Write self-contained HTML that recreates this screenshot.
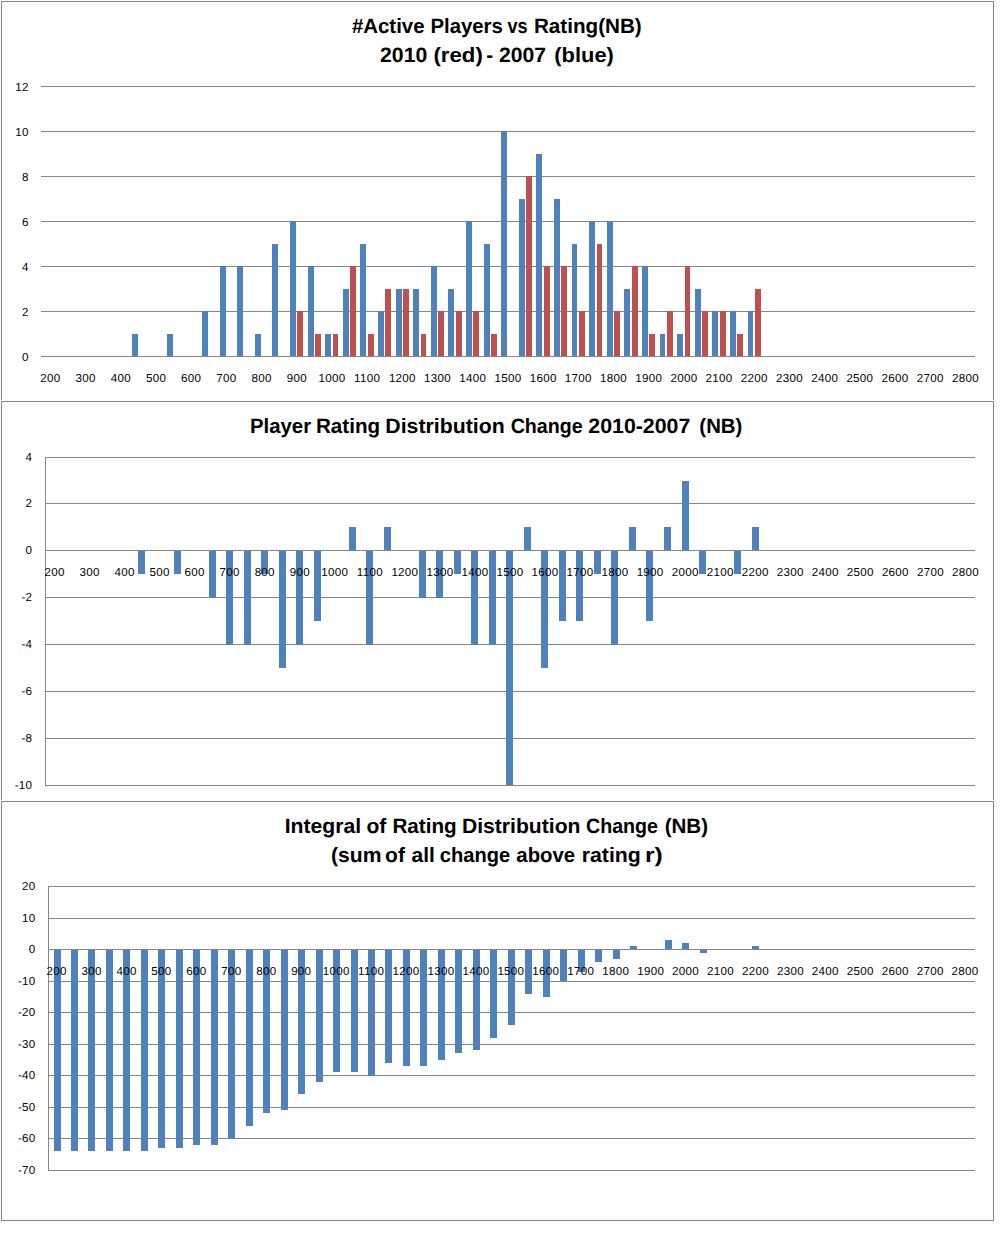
<!DOCTYPE html>
<html>
<head>
<meta charset="utf-8">
<title>Rating distribution charts</title>
<style>
html, body { margin: 0; padding: 0; background: #ffffff; }
body { width: 1003px; height: 1235px; overflow: hidden; font-family: "Liberation Sans", sans-serif; }
svg { display: block; }
.t { font-family: "Liberation Sans", sans-serif; font-size: 11.6px; letter-spacing: 0.3px; fill: #000000; }
.h { font-family: "Liberation Sans", sans-serif; font-size: 20.7px; font-weight: bold; fill: #000000; }
</style>
</head>
<body>
<svg width="1003" height="1235" viewBox="0 0 1003 1235" shape-rendering="crispEdges" text-rendering="geometricPrecision">
<rect x="0" y="0" width="1003" height="1235" fill="#ffffff"/>
<rect x="1" y="1" width="993" height="1" fill="#868686"/>
<rect x="1" y="1" width="1" height="399" fill="#868686"/>
<rect x="993" y="1" width="1" height="399" fill="#868686"/>
<rect x="1" y="401" width="993" height="1" fill="#868686"/>
<rect x="1" y="401" width="1" height="399" fill="#868686"/>
<rect x="993" y="401" width="1" height="399" fill="#868686"/>
<rect x="1" y="801" width="993" height="1" fill="#868686"/>
<rect x="1" y="801" width="1" height="420" fill="#868686"/>
<rect x="993" y="801" width="1" height="420" fill="#868686"/>
<rect x="1" y="1220" width="993" height="1" fill="#868686"/>
<rect x="41" y="356" width="934" height="1" fill="#868686"/>
<rect x="41" y="311" width="934" height="1" fill="#868686"/>
<rect x="41" y="266" width="934" height="1" fill="#868686"/>
<rect x="41" y="221" width="934" height="1" fill="#868686"/>
<rect x="41" y="176" width="934" height="1" fill="#868686"/>
<rect x="41" y="131" width="934" height="1" fill="#868686"/>
<rect x="41" y="86" width="934" height="1" fill="#868686"/>
<rect x="132" y="334" width="6" height="23" fill="#4f81bd"/>
<rect x="167" y="334" width="6" height="23" fill="#4f81bd"/>
<rect x="202" y="311" width="6" height="46" fill="#4f81bd"/>
<rect x="220" y="266" width="6" height="91" fill="#4f81bd"/>
<rect x="237" y="266" width="6" height="91" fill="#4f81bd"/>
<rect x="255" y="334" width="6" height="23" fill="#4f81bd"/>
<rect x="272" y="244" width="6" height="113" fill="#4f81bd"/>
<rect x="290" y="221" width="6" height="136" fill="#4f81bd"/>
<rect x="297" y="311" width="6" height="46" fill="#c0504d"/>
<rect x="308" y="266" width="6" height="91" fill="#4f81bd"/>
<rect x="315" y="334" width="6" height="23" fill="#c0504d"/>
<rect x="325" y="334" width="6" height="23" fill="#4f81bd"/>
<rect x="333" y="334" width="5" height="23" fill="#c0504d"/>
<rect x="343" y="289" width="6" height="68" fill="#4f81bd"/>
<rect x="350" y="266" width="6" height="91" fill="#c0504d"/>
<rect x="360" y="244" width="6" height="113" fill="#4f81bd"/>
<rect x="368" y="334" width="6" height="23" fill="#c0504d"/>
<rect x="378" y="311" width="6" height="46" fill="#4f81bd"/>
<rect x="385" y="289" width="6" height="68" fill="#c0504d"/>
<rect x="396" y="289" width="6" height="68" fill="#4f81bd"/>
<rect x="403" y="289" width="6" height="68" fill="#c0504d"/>
<rect x="413" y="289" width="6" height="68" fill="#4f81bd"/>
<rect x="421" y="334" width="5" height="23" fill="#c0504d"/>
<rect x="431" y="266" width="6" height="91" fill="#4f81bd"/>
<rect x="438" y="311" width="6" height="46" fill="#c0504d"/>
<rect x="448" y="289" width="6" height="68" fill="#4f81bd"/>
<rect x="456" y="311" width="6" height="46" fill="#c0504d"/>
<rect x="466" y="221" width="6" height="136" fill="#4f81bd"/>
<rect x="473" y="311" width="6" height="46" fill="#c0504d"/>
<rect x="484" y="244" width="6" height="113" fill="#4f81bd"/>
<rect x="491" y="334" width="6" height="23" fill="#c0504d"/>
<rect x="501" y="131" width="6" height="226" fill="#4f81bd"/>
<rect x="519" y="199" width="6" height="158" fill="#4f81bd"/>
<rect x="526" y="176" width="6" height="181" fill="#c0504d"/>
<rect x="536" y="154" width="6" height="203" fill="#4f81bd"/>
<rect x="544" y="266" width="6" height="91" fill="#c0504d"/>
<rect x="554" y="199" width="6" height="158" fill="#4f81bd"/>
<rect x="561" y="266" width="6" height="91" fill="#c0504d"/>
<rect x="572" y="244" width="5" height="113" fill="#4f81bd"/>
<rect x="579" y="311" width="6" height="46" fill="#c0504d"/>
<rect x="589" y="221" width="6" height="136" fill="#4f81bd"/>
<rect x="597" y="244" width="5" height="113" fill="#c0504d"/>
<rect x="607" y="221" width="6" height="136" fill="#4f81bd"/>
<rect x="614" y="311" width="6" height="46" fill="#c0504d"/>
<rect x="624" y="289" width="6" height="68" fill="#4f81bd"/>
<rect x="632" y="266" width="6" height="91" fill="#c0504d"/>
<rect x="642" y="266" width="6" height="91" fill="#4f81bd"/>
<rect x="649" y="334" width="6" height="23" fill="#c0504d"/>
<rect x="660" y="334" width="5" height="23" fill="#4f81bd"/>
<rect x="667" y="311" width="6" height="46" fill="#c0504d"/>
<rect x="677" y="334" width="6" height="23" fill="#4f81bd"/>
<rect x="685" y="266" width="5" height="91" fill="#c0504d"/>
<rect x="695" y="289" width="6" height="68" fill="#4f81bd"/>
<rect x="702" y="311" width="6" height="46" fill="#c0504d"/>
<rect x="712" y="311" width="6" height="46" fill="#4f81bd"/>
<rect x="720" y="311" width="6" height="46" fill="#c0504d"/>
<rect x="730" y="311" width="6" height="46" fill="#4f81bd"/>
<rect x="737" y="334" width="6" height="23" fill="#c0504d"/>
<rect x="748" y="311" width="5" height="46" fill="#4f81bd"/>
<rect x="755" y="289" width="6" height="68" fill="#c0504d"/>
<rect x="41" y="356" width="934" height="1" fill="#868686"/>
<text x="28.8" y="360.5" text-anchor="end" class="t">0</text>
<text x="28.8" y="315.5" text-anchor="end" class="t">2</text>
<text x="28.8" y="270.5" text-anchor="end" class="t">4</text>
<text x="28.8" y="225.5" text-anchor="end" class="t">6</text>
<text x="28.8" y="180.5" text-anchor="end" class="t">8</text>
<text x="28.8" y="135.5" text-anchor="end" class="t">10</text>
<text x="28.8" y="90.5" text-anchor="end" class="t">12</text>
<text x="50.46" y="382.1" text-anchor="middle" class="t">200</text>
<text x="85.65" y="382.1" text-anchor="middle" class="t">300</text>
<text x="120.84" y="382.1" text-anchor="middle" class="t">400</text>
<text x="156.04" y="382.1" text-anchor="middle" class="t">500</text>
<text x="191.23" y="382.1" text-anchor="middle" class="t">600</text>
<text x="226.42" y="382.1" text-anchor="middle" class="t">700</text>
<text x="261.61" y="382.1" text-anchor="middle" class="t">800</text>
<text x="296.8" y="382.1" text-anchor="middle" class="t">900</text>
<text x="332" y="382.1" text-anchor="middle" class="t">1000</text>
<text x="367.19" y="382.1" text-anchor="middle" class="t">1100</text>
<text x="402.38" y="382.1" text-anchor="middle" class="t">1200</text>
<text x="437.57" y="382.1" text-anchor="middle" class="t">1300</text>
<text x="472.76" y="382.1" text-anchor="middle" class="t">1400</text>
<text x="507.96" y="382.1" text-anchor="middle" class="t">1500</text>
<text x="543.15" y="382.1" text-anchor="middle" class="t">1600</text>
<text x="578.34" y="382.1" text-anchor="middle" class="t">1700</text>
<text x="613.53" y="382.1" text-anchor="middle" class="t">1800</text>
<text x="648.72" y="382.1" text-anchor="middle" class="t">1900</text>
<text x="683.92" y="382.1" text-anchor="middle" class="t">2000</text>
<text x="719.11" y="382.1" text-anchor="middle" class="t">2100</text>
<text x="754.3" y="382.1" text-anchor="middle" class="t">2200</text>
<text x="789.49" y="382.1" text-anchor="middle" class="t">2300</text>
<text x="824.68" y="382.1" text-anchor="middle" class="t">2400</text>
<text x="859.88" y="382.1" text-anchor="middle" class="t">2500</text>
<text x="895.07" y="382.1" text-anchor="middle" class="t">2600</text>
<text x="930.26" y="382.1" text-anchor="middle" class="t">2700</text>
<text x="965.45" y="382.1" text-anchor="middle" class="t">2800</text>
<rect x="45" y="457" width="930" height="1" fill="#868686"/>
<rect x="45" y="503" width="930" height="1" fill="#868686"/>
<rect x="45" y="550" width="930" height="1" fill="#868686"/>
<rect x="45" y="597" width="930" height="1" fill="#868686"/>
<rect x="45" y="644" width="930" height="1" fill="#868686"/>
<rect x="45" y="691" width="930" height="1" fill="#868686"/>
<rect x="45" y="738" width="930" height="1" fill="#868686"/>
<rect x="45" y="785" width="930" height="1" fill="#868686"/>
<rect x="45" y="457" width="1" height="329" fill="#868686"/>
<rect x="138" y="550" width="7" height="24" fill="#4f81bd"/>
<rect x="174" y="550" width="7" height="24" fill="#4f81bd"/>
<rect x="209" y="550" width="7" height="48" fill="#4f81bd"/>
<rect x="226" y="550" width="7" height="95" fill="#4f81bd"/>
<rect x="244" y="550" width="7" height="95" fill="#4f81bd"/>
<rect x="261" y="550" width="7" height="24" fill="#4f81bd"/>
<rect x="279" y="550" width="7" height="118" fill="#4f81bd"/>
<rect x="296" y="550" width="7" height="95" fill="#4f81bd"/>
<rect x="314" y="550" width="7" height="71" fill="#4f81bd"/>
<rect x="349" y="527" width="7" height="24" fill="#4f81bd"/>
<rect x="366" y="550" width="7" height="95" fill="#4f81bd"/>
<rect x="384" y="527" width="7" height="24" fill="#4f81bd"/>
<rect x="419" y="550" width="7" height="48" fill="#4f81bd"/>
<rect x="436" y="550" width="7" height="48" fill="#4f81bd"/>
<rect x="454" y="550" width="7" height="24" fill="#4f81bd"/>
<rect x="471" y="550" width="7" height="95" fill="#4f81bd"/>
<rect x="489" y="550" width="7" height="95" fill="#4f81bd"/>
<rect x="506" y="550" width="7" height="235" fill="#4f81bd"/>
<rect x="524" y="527" width="7" height="24" fill="#4f81bd"/>
<rect x="541" y="550" width="7" height="118" fill="#4f81bd"/>
<rect x="559" y="550" width="7" height="71" fill="#4f81bd"/>
<rect x="576" y="550" width="7" height="71" fill="#4f81bd"/>
<rect x="594" y="550" width="7" height="24" fill="#4f81bd"/>
<rect x="611" y="550" width="7" height="95" fill="#4f81bd"/>
<rect x="629" y="527" width="7" height="24" fill="#4f81bd"/>
<rect x="646" y="550" width="7" height="71" fill="#4f81bd"/>
<rect x="664" y="527" width="7" height="24" fill="#4f81bd"/>
<rect x="682" y="481" width="7" height="70" fill="#4f81bd"/>
<rect x="699" y="550" width="7" height="24" fill="#4f81bd"/>
<rect x="734" y="550" width="7" height="24" fill="#4f81bd"/>
<rect x="752" y="527" width="7" height="24" fill="#4f81bd"/>
<rect x="45" y="550" width="930" height="1" fill="#868686"/>
<text x="32.3" y="461.1" text-anchor="end" class="t">4</text>
<text x="32.3" y="507.1" text-anchor="end" class="t">2</text>
<text x="32.3" y="554.1" text-anchor="end" class="t">0</text>
<text x="32.3" y="601.1" text-anchor="end" class="t">-2</text>
<text x="32.3" y="648.1" text-anchor="end" class="t">-4</text>
<text x="32.3" y="695.1" text-anchor="end" class="t">-6</text>
<text x="32.3" y="742.1" text-anchor="end" class="t">-8</text>
<text x="32.3" y="789.1" text-anchor="end" class="t">-10</text>
<text x="54.53" y="576.1" text-anchor="middle" class="t">200</text>
<text x="89.57" y="576.1" text-anchor="middle" class="t">300</text>
<text x="124.6" y="576.1" text-anchor="middle" class="t">400</text>
<text x="159.64" y="576.1" text-anchor="middle" class="t">500</text>
<text x="194.67" y="576.1" text-anchor="middle" class="t">600</text>
<text x="229.71" y="576.1" text-anchor="middle" class="t">700</text>
<text x="264.75" y="576.1" text-anchor="middle" class="t">800</text>
<text x="299.78" y="576.1" text-anchor="middle" class="t">900</text>
<text x="334.82" y="576.1" text-anchor="middle" class="t">1000</text>
<text x="369.85" y="576.1" text-anchor="middle" class="t">1100</text>
<text x="404.89" y="576.1" text-anchor="middle" class="t">1200</text>
<text x="439.93" y="576.1" text-anchor="middle" class="t">1300</text>
<text x="474.96" y="576.1" text-anchor="middle" class="t">1400</text>
<text x="510" y="576.1" text-anchor="middle" class="t">1500</text>
<text x="545.03" y="576.1" text-anchor="middle" class="t">1600</text>
<text x="580.07" y="576.1" text-anchor="middle" class="t">1700</text>
<text x="615.11" y="576.1" text-anchor="middle" class="t">1800</text>
<text x="650.14" y="576.1" text-anchor="middle" class="t">1900</text>
<text x="685.18" y="576.1" text-anchor="middle" class="t">2000</text>
<text x="720.21" y="576.1" text-anchor="middle" class="t">2100</text>
<text x="755.25" y="576.1" text-anchor="middle" class="t">2200</text>
<text x="790.29" y="576.1" text-anchor="middle" class="t">2300</text>
<text x="825.32" y="576.1" text-anchor="middle" class="t">2400</text>
<text x="860.36" y="576.1" text-anchor="middle" class="t">2500</text>
<text x="895.39" y="576.1" text-anchor="middle" class="t">2600</text>
<text x="930.43" y="576.1" text-anchor="middle" class="t">2700</text>
<text x="965.47" y="576.1" text-anchor="middle" class="t">2800</text>
<rect x="48" y="886.1" width="927" height="1" fill="#868686"/>
<rect x="48" y="917.59" width="927" height="1" fill="#868686"/>
<rect x="48" y="949.08" width="927" height="1" fill="#868686"/>
<rect x="48" y="980.57" width="927" height="1" fill="#868686"/>
<rect x="48" y="1012.06" width="927" height="1" fill="#868686"/>
<rect x="48" y="1043.54" width="927" height="1" fill="#868686"/>
<rect x="48" y="1075.03" width="927" height="1" fill="#868686"/>
<rect x="48" y="1106.52" width="927" height="1" fill="#868686"/>
<rect x="48" y="1138.01" width="927" height="1" fill="#868686"/>
<rect x="48" y="1169.5" width="927" height="1" fill="#868686"/>
<rect x="48" y="886" width="1" height="285" fill="#868686"/>
<rect x="54" y="949" width="7" height="202" fill="#4f81bd"/>
<rect x="71" y="949" width="7" height="202" fill="#4f81bd"/>
<rect x="88" y="949" width="7" height="202" fill="#4f81bd"/>
<rect x="106" y="949" width="7" height="202" fill="#4f81bd"/>
<rect x="123" y="949" width="7" height="202" fill="#4f81bd"/>
<rect x="141" y="949" width="7" height="202" fill="#4f81bd"/>
<rect x="158" y="949" width="7" height="199" fill="#4f81bd"/>
<rect x="176" y="949" width="7" height="199" fill="#4f81bd"/>
<rect x="193" y="949" width="7" height="196" fill="#4f81bd"/>
<rect x="211" y="949" width="7" height="196" fill="#4f81bd"/>
<rect x="228" y="949" width="7" height="190" fill="#4f81bd"/>
<rect x="246" y="949" width="7" height="177" fill="#4f81bd"/>
<rect x="263" y="949" width="7" height="164" fill="#4f81bd"/>
<rect x="281" y="949" width="7" height="161" fill="#4f81bd"/>
<rect x="298" y="949" width="7" height="145" fill="#4f81bd"/>
<rect x="316" y="949" width="7" height="133" fill="#4f81bd"/>
<rect x="333" y="949" width="7" height="123" fill="#4f81bd"/>
<rect x="351" y="949" width="7" height="123" fill="#4f81bd"/>
<rect x="368" y="949" width="7" height="127" fill="#4f81bd"/>
<rect x="385" y="949" width="7" height="114" fill="#4f81bd"/>
<rect x="403" y="949" width="7" height="117" fill="#4f81bd"/>
<rect x="420" y="949" width="7" height="117" fill="#4f81bd"/>
<rect x="438" y="949" width="7" height="111" fill="#4f81bd"/>
<rect x="455" y="949" width="7" height="104" fill="#4f81bd"/>
<rect x="473" y="949" width="7" height="101" fill="#4f81bd"/>
<rect x="490" y="949" width="7" height="89" fill="#4f81bd"/>
<rect x="508" y="949" width="7" height="76" fill="#4f81bd"/>
<rect x="525" y="949" width="7" height="45" fill="#4f81bd"/>
<rect x="543" y="949" width="7" height="48" fill="#4f81bd"/>
<rect x="560" y="949" width="7" height="32" fill="#4f81bd"/>
<rect x="578" y="949" width="7" height="23" fill="#4f81bd"/>
<rect x="595" y="949" width="7" height="13" fill="#4f81bd"/>
<rect x="613" y="949" width="7" height="10" fill="#4f81bd"/>
<rect x="630" y="946" width="7" height="4" fill="#4f81bd"/>
<rect x="665" y="940" width="7" height="10" fill="#4f81bd"/>
<rect x="682" y="943" width="7" height="7" fill="#4f81bd"/>
<rect x="700" y="949" width="7" height="4" fill="#4f81bd"/>
<rect x="752" y="946" width="7" height="4" fill="#4f81bd"/>
<rect x="48" y="949.08" width="927" height="1" fill="#868686"/>
<text x="35.6" y="890.2" text-anchor="end" class="t">20</text>
<text x="35.6" y="921.69" text-anchor="end" class="t">10</text>
<text x="35.6" y="953.18" text-anchor="end" class="t">0</text>
<text x="35.6" y="984.67" text-anchor="end" class="t">-10</text>
<text x="35.6" y="1016.16" text-anchor="end" class="t">-20</text>
<text x="35.6" y="1047.64" text-anchor="end" class="t">-30</text>
<text x="35.6" y="1079.13" text-anchor="end" class="t">-40</text>
<text x="35.6" y="1110.62" text-anchor="end" class="t">-50</text>
<text x="35.6" y="1142.11" text-anchor="end" class="t">-60</text>
<text x="35.6" y="1173.6" text-anchor="end" class="t">-70</text>
<text x="56.67" y="974.7" text-anchor="middle" class="t">200</text>
<text x="91.61" y="974.7" text-anchor="middle" class="t">300</text>
<text x="126.55" y="974.7" text-anchor="middle" class="t">400</text>
<text x="161.49" y="974.7" text-anchor="middle" class="t">500</text>
<text x="196.43" y="974.7" text-anchor="middle" class="t">600</text>
<text x="231.37" y="974.7" text-anchor="middle" class="t">700</text>
<text x="266.31" y="974.7" text-anchor="middle" class="t">800</text>
<text x="301.25" y="974.7" text-anchor="middle" class="t">900</text>
<text x="336.19" y="974.7" text-anchor="middle" class="t">1000</text>
<text x="371.13" y="974.7" text-anchor="middle" class="t">1100</text>
<text x="406.07" y="974.7" text-anchor="middle" class="t">1200</text>
<text x="441.01" y="974.7" text-anchor="middle" class="t">1300</text>
<text x="475.95" y="974.7" text-anchor="middle" class="t">1400</text>
<text x="510.89" y="974.7" text-anchor="middle" class="t">1500</text>
<text x="545.83" y="974.7" text-anchor="middle" class="t">1600</text>
<text x="580.77" y="974.7" text-anchor="middle" class="t">1700</text>
<text x="615.71" y="974.7" text-anchor="middle" class="t">1800</text>
<text x="650.65" y="974.7" text-anchor="middle" class="t">1900</text>
<text x="685.59" y="974.7" text-anchor="middle" class="t">2000</text>
<text x="720.53" y="974.7" text-anchor="middle" class="t">2100</text>
<text x="755.47" y="974.7" text-anchor="middle" class="t">2200</text>
<text x="790.41" y="974.7" text-anchor="middle" class="t">2300</text>
<text x="825.35" y="974.7" text-anchor="middle" class="t">2400</text>
<text x="860.29" y="974.7" text-anchor="middle" class="t">2500</text>
<text x="895.23" y="974.7" text-anchor="middle" class="t">2600</text>
<text x="930.17" y="974.7" text-anchor="middle" class="t">2700</text>
<text x="965.11" y="974.7" text-anchor="middle" class="t">2800</text>
<text transform="matrix(0.9858 0 0 1 351.94 33.3)" class="h">#Active</text>
<text transform="matrix(0.9843 0 0 1 430.41 33.3)" class="h">Players</text>
<text transform="matrix(0.8756 0 0 1 507.5 33.3)" class="h">vs</text>
<text transform="matrix(0.9977 0 0 1 533.92 33.3)" class="h">Rating(NB)</text>
<text transform="matrix(1.0261 0 0 1 380.06 62.2)" class="h">2010</text>
<text transform="matrix(1.0731 0 0 1 433.44 62.2)" class="h">(red)</text>
<text transform="matrix(1.0059 0 0 1 486.31 62.2)" class="h">-</text>
<text transform="matrix(1.022 0 0 1 498.88 62.2)" class="h">2007</text>
<text transform="matrix(1.0578 0 0 1 554.28 62.2)" class="h">(blue)</text>
<text transform="matrix(0.984 0 0 1 249.95 433.2)" class="h">Player</text>
<text transform="matrix(0.9972 0 0 1 315.94 433.2)" class="h">Rating</text>
<text transform="matrix(1.0279 0 0 1 385.32 433.2)" class="h">Distribution</text>
<text transform="matrix(0.9494 0 0 1 510.63 433.2)" class="h">Change</text>
<text transform="matrix(1.0316 0 0 1 588.27 433.2)" class="h">2010-2007</text>
<text transform="matrix(0.9841 0 0 1 699.37 433.2)" class="h">(NB)</text>
<text transform="matrix(1.0248 0 0 1 284.68 833.2)" class="h">Integral</text>
<text transform="matrix(1.019 0 0 1 366.38 833.2)" class="h">of</text>
<text transform="matrix(0.9988 0 0 1 392.38 833.2)" class="h">Rating</text>
<text transform="matrix(1.0215 0 0 1 461.9 833.2)" class="h">Distribution</text>
<text transform="matrix(0.9497 0 0 1 585.99 833.2)" class="h">Change</text>
<text transform="matrix(0.9952 0 0 1 664.63 833.2)" class="h">(NB)</text>
<text transform="matrix(1.0213 0 0 1 331.01 862.2)" class="h">(sum</text>
<text transform="matrix(1.016 0 0 1 385.11 862.2)" class="h">of</text>
<text transform="matrix(1.0133 0 0 1 411.49 862.2)" class="h">all</text>
<text transform="matrix(0.9705 0 0 1 439.81 862.2)" class="h">change</text>
<text transform="matrix(0.984 0 0 1 516.33 862.2)" class="h">above</text>
<text transform="matrix(1.0284 0 0 1 581.73 862.2)" class="h">rating</text>
<text transform="matrix(1.1925 0 0 1 645.01 862.2)" class="h">r)</text>
</svg>
</body>
</html>
